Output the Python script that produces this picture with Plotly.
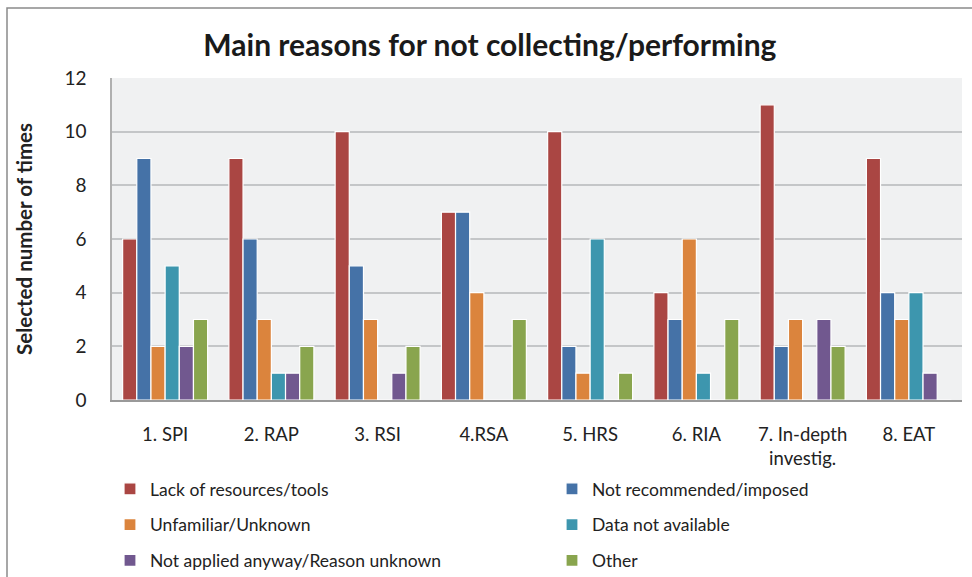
import plotly.graph_objects as go

categories = ["1. SPI", "2. RAP", "3. RSI", "4.RSA", "5. HRS", "6. RIA", "7. In-depth<br>investig.", "8. EAT"]
lack_resources = [6, 9, 10, 7, 10, 4, 11, 9]
not_recommended = [9, 6, 5, 7, 2, 3, 2, 4]
unfamiliar = [2, 3, 3, 4, 1, 6, 3, 3]
data_not_available = [5, 1, 0, 0, 6, 1, 0, 4]
not_applied = [2, 1, 1, 0, 0, 0, 3, 1]
other = [3, 2, 2, 3, 1, 3, 2, 0]

series = [
    ("Lack of resources/tools", lack_resources, "#AA4643", "legend"),
    ("Not recommended/imposed", not_recommended, "#4572A7", "legend2"),
    ("Unfamiliar/Unknown", unfamiliar, "#DB843D", "legend"),
    ("Data not available", data_not_available, "#3D96AE", "legend2"),
    ("Not applied anyway/Reason unknown", not_applied, "#71588F", "legend"),
    ("Other", other, "#89A54E", "legend2"),
]

fig = go.Figure()
for i, (name, vals, col, lg) in enumerate(series):
    fig.add_trace(go.Bar(
        x=categories, y=vals, name=name, legend=lg, legendgroup=f"g{i}",
        marker=dict(color=col, line=dict(color="white", width=1.2)),
    ))

L, R, T, B = 112, 10, 78, 177
W, H = 972, 577
pw = W - L - R
ph = H - T - B

leg_common = dict(orientation="v", yanchor="top", bgcolor="rgba(0,0,0,0)",
                  font=dict(size=17.5, color="#222"), traceorder="grouped",
                  itemwidth=30, tracegroupgap=10)

fig.update_layout(
    width=W, height=H,
    margin=dict(l=L, r=R, t=T, b=B, autoexpand=False),
    paper_bgcolor="white",
    plot_bgcolor="#F0F1F2",
    font=dict(family="Lato, Open Sans, sans-serif", size=16, color="#222"),
    title=dict(text="<b>Main reasons for not collecting/performing</b>",
               x=0.504, xanchor="center", y=1 - 45 / H, yanchor="middle",
               font=dict(size=30, color="#1a1a1a")),
    barmode="group", bargap=0.2, bargroupgap=0.0,
    showlegend=True,
    legend=dict(x=(110 - L) / pw, xanchor="left", y=-(471 - 400) / ph, **leg_common),
    legend2=dict(x=(552 - L) / pw, xanchor="left", y=-(471 - 400) / ph, **leg_common),
    xaxis=dict(showgrid=False, showline=True, linecolor="#999", linewidth=2,
               ticks="", tickfont=dict(size=18.5), ticklabelstandoff=17),
    yaxis=dict(range=[0, 12], dtick=2, showgrid=True, gridcolor="#C4C6C8", gridwidth=1.5,
               showline=True, linecolor="#B0B0B0", linewidth=1.5, zeroline=False,
               ticks="", tickfont=dict(size=19), ticklabelstandoff=20,
               title=dict(text="<b>Selected number of times</b>", font=dict(size=20.5), standoff=26)),
    shapes=[dict(type="rect", xref="paper", yref="paper",
                 x0=(7 - L) / pw, x1=(1000 - L) / pw,
                 y0=-1.0, y1=1 + (T - 8) / ph,
                 line=dict(color="#8a8a8a", width=1.5), fillcolor="rgba(0,0,0,0)", layer="below")],
)

fig.write_html("out.html", config={"displayModeBar": False},
               post_script="document.body.style.margin='0';")
